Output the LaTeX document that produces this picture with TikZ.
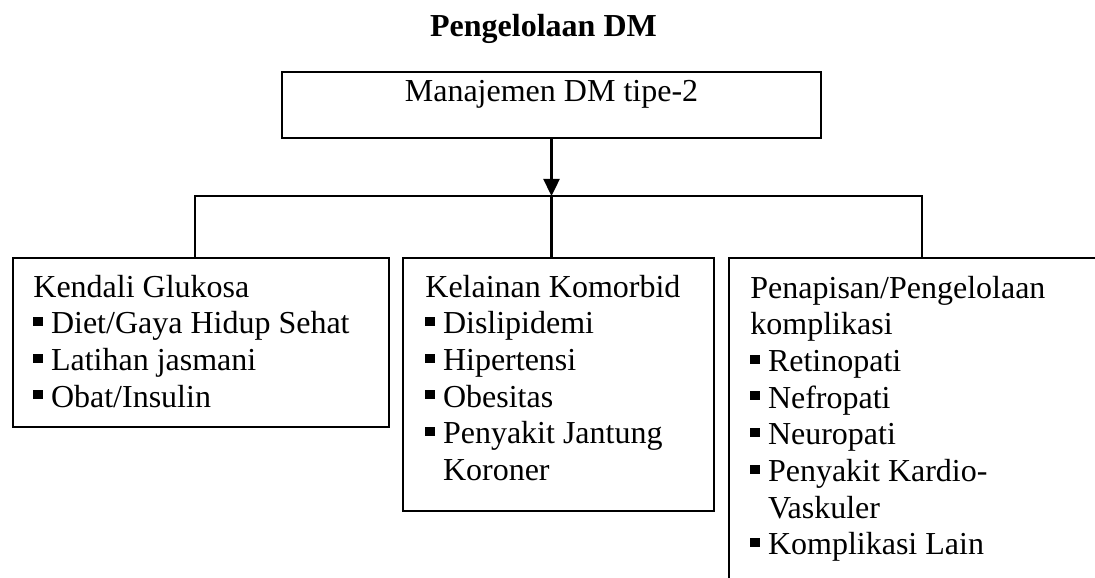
\documentclass[tikz,border=0pt]{standalone}
\usepackage{fontspec}
\setmainfont{Liberation Serif}
\usetikzlibrary{arrows.meta,positioning}

\newcommand{\butir}{\rule[0.24em]{0.3em}{0.28em}\hspace{0.25em}}
\newcommand{\lanjut}{\hspace*{0.55em}}
\newcommand{\isi}[2]{\parbox[t]{#1}{#2}}

\begin{document}
\begin{tikzpicture}[x=0.5pt,y=-0.5pt,every node/.style={font=\fontsize{16}{18.35}\selectfont}]
  \tikzstyle{BoxStyle}=[draw,rectangle,line width=1.2pt,inner sep=0pt,outer sep=0pt]
  \tikzstyle{ListStyle}=[anchor=base west,inner sep=0pt]
  \useasboundingbox (0,0) rectangle (1095,577);
  \clip (0,0) rectangle (1095,577);

  \node[anchor=base,font=\fontsize{16}{18.35}\selectfont\bfseries] (judul) at (543.5,37) {Pengelolaan DM};
  \node[BoxStyle,minimum width=269.5pt,minimum height=33pt] (atas) at (551.5,105) {};
  \node[anchor=base,inner sep=0pt] (atasteks) at (551.5,102) {Manajemen DM tipe-2};

  \node[BoxStyle,anchor=north west,minimum width=188pt,minimum height=84.5pt] (gluk) at (13,258) {};
  \node[BoxStyle,anchor=north west,minimum width=155.5pt,minimum height=126.5pt] (komo) at (403,258) {};
  \node[BoxStyle,anchor=north west,minimum width=200pt,minimum height=180pt] (komp) at (729,258) {};

  \node[ListStyle] (glukteks) at ([shift={(20,39)}]gluk.north west)
    {\isi{175pt}{Kendali Glukosa\\ \butir Diet/Gaya Hidup Sehat\\ \butir Latihan jasmani\\ \butir Obat/Insulin}};
  \node[ListStyle] (komoteks) at ([shift={(22,39)}]komo.north west)
    {\isi{145pt}{Kelainan Komorbid\\ \butir Dislipidemi\\ \butir Hipertensi\\ \butir Obesitas\\ \butir Penyakit Jantung\\ \lanjut Koroner}};
  \node[ListStyle] (kompteks) at ([shift={(21,40)}]komp.north west)
    {\isi{165pt}{Penapisan/Pengelolaan\\ komplikasi\\ \butir Retinopati\\ \butir Nefropati\\ \butir Neuropati\\ \butir Penyakit Kardio-\\ \lanjut Vaskuler\\ \butir Komplikasi Lain}};

  \coordinate (cabL) at (195,196);
  \coordinate (cabM) at (551.5,196);
  \coordinate (cabR) at (922,196);

  \draw[line width=1.2pt,-{Triangle[length=8.5pt,width=8pt]}] (atas) -- (cabM);
  \draw[line width=1.2pt] (cabL |- gluk.north) -- (cabL) -- (cabR) -- (cabR |- komp.north);
  \draw[line width=1.2pt] (cabM) -- (cabM |- komo.north);
\end{tikzpicture}
\end{document}
